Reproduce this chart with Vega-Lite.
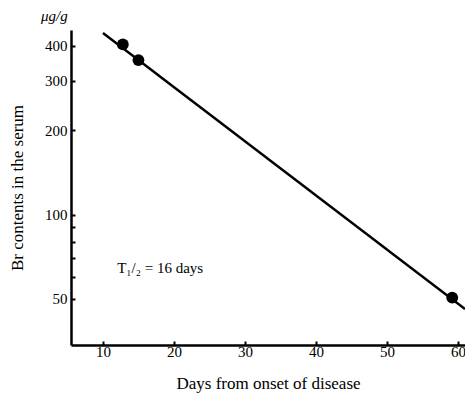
{
  "$schema": "https://vega.github.io/schema/vega-lite/v6.json",
  "width": 394,
  "height": 315,
  "padding": {"left": 71, "top": 30, "right": 0, "bottom": 49},
  "autosize": "none",
  "background": "white",
  "title": {
    "text": "μg/g",
    "anchor": "start",
    "frame": "group",
    "orient": "top",
    "dx": -30,
    "offset": 6,
    "font": "Liberation Serif",
    "fontSize": 15,
    "fontStyle": "italic",
    "fontWeight": "normal",
    "color": "black"
  },
  "config": {
    "view": {"stroke": null},
    "font": "Liberation Serif",
    "axis": {
      "domainColor": "black",
      "domainWidth": 2.5,
      "tickColor": "black",
      "tickWidth": 2,
      "grid": false,
      "labelFont": "Liberation Serif",
      "titleFont": "Liberation Serif",
      "labelColor": "black",
      "titleColor": "black",
      "labelFontSize": 15,
      "titleFontSize": 17,
      "titleFontWeight": "normal"
    }
  },
  "datasets": {
    "measured": [
      {"day": 12.8, "br": 405},
      {"day": 15, "br": 356},
      {"day": 59.2, "br": 50.5}
    ],
    "fit": [
      {"day": 10, "br": 445},
      {"day": 61, "br": 46}
    ],
    "note": [
      {"day": 12, "br": 64.5, "label": "T₁/₂ = 16 days"}
    ]
  },
  "layer": [
    {
      "data": {"name": "fit"},
      "mark": {"type": "line", "color": "black", "strokeWidth": 2.5, "clip": true},
      "encoding": {
        "x": {
          "field": "day",
          "type": "quantitative",
          "scale": {"domain": [5.5, 61], "nice": false, "zero": false},
          "axis": {
            "title": "Days from onset of disease",
            "values": [10, 20, 30, 40, 50, 60],
            "tickSize": -4,
            "labelPadding": 3,
            "titlePadding": 16
          }
        },
        "y": {
          "field": "br",
          "type": "quantitative",
          "scale": {"type": "log", "domain": [34.2, 456], "nice": false},
          "axis": {
            "title": "Br contents in the serum",
            "values": [50, 60, 70, 80, 90, 100, 200, 300, 400],
            "labelExpr": "indexof([50,100,200,300,400], datum.value) >= 0 ? datum.label : ''",
            "tickSize": -4,
            "labelPadding": 8,
            "titlePadding": 18
          }
        }
      }
    },
    {
      "data": {"name": "measured"},
      "mark": {"type": "circle", "color": "black", "size": 140, "opacity": 1},
      "encoding": {
        "x": {"field": "day", "type": "quantitative"},
        "y": {"field": "br", "type": "quantitative"}
      }
    },
    {
      "data": {"name": "note"},
      "mark": {"type": "text", "align": "left", "baseline": "middle", "fontSize": 15, "font": "Liberation Serif", "color": "black"},
      "encoding": {
        "x": {"field": "day", "type": "quantitative"},
        "y": {"field": "br", "type": "quantitative"},
        "text": {"field": "label"}
      }
    }
  ]
}
